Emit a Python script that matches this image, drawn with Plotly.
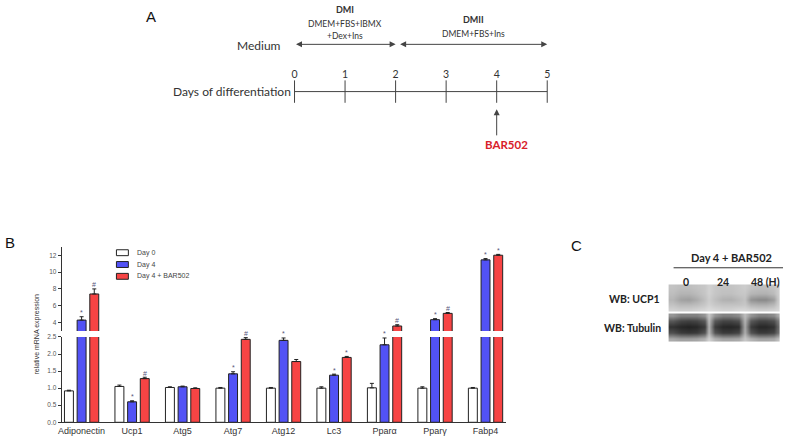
import plotly.graph_objects as go

W, H = 787, 443

# ---------------- data ----------------
genes = ["Adiponectin", "Ucp1", "Atg5", "Atg7", "Atg12", "Lc3", "Pparα", "Pparγ", "Fabp4"]
day0 = [0.92, 1.05, 1.02, 1.00, 1.00, 1.00, 1.01, 1.00, 1.00]
day4 = [4.30, 0.60, 1.04, 1.42, 2.40, 1.38, 2.27, 4.35, 11.45]
day4_bar = [7.40, 1.28, 0.99, 2.43, 1.78, 1.90, 3.60, 5.10, 12.00]
err0 = [0.02, 0.04, 0.02, 0.02, 0.02, 0.04, 0.13, 0.04, 0.02]
err4 = [0.40, 0.03, 0.02, 0.06, 0.07, 0.03, 0.20, 0.12, 0.15]
err4b = [0.60, 0.04, 0.02, 0.05, 0.06, 0.03, 0.15, 0.10, 0.10]
sig4 = ["*", "*", "", "*", "*", "*", "*", "*", "*"]
sig4b = ["#", "#", "", "#", "", "*", "#", "#", "*"]
series_names = ["Day 0", "Day 4", "Day 4 + BAR502"]
lower_ticks = [0.0, 0.5, 1.0, 1.5, 2.0, 2.5]
upper_ticks = [4, 6, 8, 10, 12]

days = [0, 1, 2, 3, 4, 5]
lanes = ["0", "24", "48 (H)"]

# western blot image grey levels
blot_x = [672, 680, 688, 696, 704, 708, 714, 722, 730, 738, 744, 750, 758, 766, 774, 778]
ucp1_y = [288, 294, 300, 305, 310]
ucp1_z = [
    [195, 190, 190, 195, 200, 210, 200, 195, 195, 200, 205, 195, 190, 190, 195, 205],
    [190, 180, 180, 188, 198, 210, 198, 192, 192, 198, 200, 182, 178, 178, 188, 205],
    [182, 162, 158, 172, 192, 205, 192, 178, 176, 186, 195, 148, 138, 138, 158, 200],
    [195, 185, 185, 190, 200, 210, 200, 195, 195, 195, 200, 180, 175, 175, 185, 205],
    [210, 205, 205, 210, 215, 220, 215, 210, 210, 215, 215, 210, 205, 205, 210, 215],
]
tub_y = [317, 322, 328, 334, 340]
tub_z = [
    [150, 130, 130, 130, 150, 200, 150, 130, 130, 140, 190, 150, 130, 130, 140, 170],
    [90, 70, 65, 70, 90, 190, 90, 70, 70, 80, 180, 90, 70, 70, 80, 120],
    [50, 40, 35, 40, 60, 180, 60, 40, 38, 45, 170, 60, 40, 40, 50, 100],
    [80, 60, 55, 60, 85, 185, 85, 60, 60, 70, 175, 85, 60, 60, 70, 110],
    [170, 160, 160, 165, 180, 210, 180, 165, 165, 170, 200, 180, 165, 165, 170, 190],
]

# ---------------- helpers ----------------
def py(p):  # pixel y -> paper
    return 1 - p / H

def px(p):
    return p / W

colors = ["#ffffff", "#5252f5", "#f74444"]
vals = [day0, day4, day4_bar]
errs = [err0, err4, err4b]

fig = go.Figure()

for axis in ["y", "y2"]:
    for i in range(3):
        fig.add_trace(go.Bar(
            x=genes, y=vals[i], name=series_names[i],
            marker=dict(color=colors[i], line=dict(color="#222222", width=1)),
            error_y=dict(type="data", array=errs[i], arrayminus=[0] * len(genes),
                         symmetric=False, color="#222222", thickness=1, width=2),
            xaxis="x", yaxis=axis, showlegend=False,
        ))

ann = []
# significance marks
for sig, v, e, shift in [(sig4, day4, err4, 0), (sig4b, day4_bar, err4b, 12.8)]:
    for j, g in enumerate(genes):
        if not sig[j]:
            continue
        top = v[j] + e[j]
        ann.append(dict(x=g, y=top, xref="x", yref="y2" if top > 3 else "y",
                        text=sig[j], showarrow=False, xshift=shift, yshift=4,
                        font=dict(size=7, color="#555577", family="Liberation Sans")))

# y title
ann.append(dict(x=px(33), y=py(335), xref="paper", yref="paper", text="relative mRNA expression",
                textangle=-90, showarrow=False, xanchor="center", yanchor="middle",
                font=dict(size=7, color="#333", family="Liberation Sans")))

# panel letters
for t, x0, y0 in [("A", 148, 13), ("B", 6, 242), ("C", 575, 245)]:
    ann.append(dict(x=px(x0), y=py(y0), xref="paper", yref="paper", text=t, showarrow=False,
                    xanchor="center", yanchor="middle",
                    font=dict(size=15, color="#111", family="Liberation Sans")))

shapes = []
# manual legend (compact spacing as in the reference)
leg_y = [252.7, 264.7, 276.7]
for i in range(3):
    shapes.append(dict(type="rect", xref="x5", yref="y5", x0=113, x1=125,
                       y0=leg_y[i] - 3, y1=leg_y[i] + 3, fillcolor=colors[i],
                       line=dict(color="#222", width=1)))
    ann.append(dict(x=132, y=leg_y[i], xref="x5", yref="y5", text=series_names[i],
                    showarrow=False, xanchor="left", yanchor="middle",
                    font=dict(size=7, color="#444", family="Liberation Sans")))

# ---------------- panel A (timeline) ----------------
dpx = (546 - 292) / 5.0
x3_range = [(0 - 292) / dpx, (590.25 - 292) / dpx]
fig.add_trace(go.Scatter(x=[days[0], days[-1]], y=[89, 89], mode="lines",
                         line=dict(color="#444", width=1), xaxis="x3", yaxis="y3",
                         showlegend=False, hoverinfo="skip"))
fig.add_trace(go.Scatter(x=days, y=[89] * len(days), mode="markers+text",
                         marker=dict(symbol="line-ns", size=16, line=dict(color="#444", width=1)),
                         text=[str(d) for d in days], textposition="top center",
                         textfont=dict(size=10.5, color="#333", family="Lato"),
                         xaxis="x3", yaxis="y3", showlegend=False, hoverinfo="skip"))

fontA = "Lato"
ann += [
    dict(x=2, y=41, ax=0, ay=41, xref="x3", yref="y3", axref="x3", ayref="y3", text="",
         showarrow=True, arrowside="end+start", arrowhead=2, arrowsize=1.2, arrowwidth=1, arrowcolor="#444"),
    dict(x=5, y=41, ax=2.06, ay=41, xref="x3", yref="y3", axref="x3", ayref="y3", text="",
         showarrow=True, arrowside="end+start", arrowhead=2, arrowsize=1.2, arrowwidth=1, arrowcolor="#444"),
    dict(x=4, y=107, ax=4, ay=135, xref="x3", yref="y3", axref="x3", ayref="y3", text="",
         showarrow=True, arrowhead=2, arrowsize=1.2, arrowwidth=1, arrowcolor="#444"),
    dict(x=4.2, y=143, xref="x3", yref="y3", text="<b>BAR502</b>", showarrow=False,
         font=dict(size=11.5, color="#d8202a", family=fontA)),
    dict(x=1, y=6, xref="x3", yref="y3", text="<b>DMI</b>", showarrow=False,
         font=dict(size=9, color="#333", family=fontA)),
    dict(x=1, y=20, xref="x3", yref="y3", text="DMEM+FBS+IBMX", showarrow=False,
         font=dict(size=8.5, color="#333", family=fontA)),
    dict(x=1, y=33, xref="x3", yref="y3", text="+Dex+Ins", showarrow=False,
         font=dict(size=8.5, color="#333", family=fontA)),
    dict(x=3.55, y=16, xref="x3", yref="y3", text="<b>DMII</b>", showarrow=False,
         font=dict(size=9, color="#333", family=fontA)),
    dict(x=3.55, y=30, xref="x3", yref="y3", text="DMEM+FBS+Ins", showarrow=False,
         font=dict(size=8.5, color="#333", family=fontA)),
    dict(x=-0.22, y=42, xref="x3", yref="y3", text="Medium", showarrow=False, xanchor="right",
         font=dict(size=12, color="#333", family=fontA)),
    dict(x=-0.03, y=89, xref="x3", yref="y3", text="Days of differentiation", showarrow=False,
         xanchor="right", font=dict(size=12, color="#333", family=fontA)),
]

# ---------------- panel C (western blot) ----------------
gray = [[0, "#000000"], [1, "#ffffff"]]
for yy, zz in [(ucp1_y, ucp1_z), (tub_y, tub_z)]:
    fig.add_trace(go.Heatmap(x=blot_x, y=yy, z=zz, colorscale=gray, zmin=0, zmax=255,
                             zsmooth="best", showscale=False, xaxis="x4", yaxis="y4",
                             hoverinfo="skip"))

lane_x = [685, 723, 765]
for lx, lt in zip(lane_x, lanes):
    ann.append(dict(x=lx, y=282, xref="x4", yref="y4", text="<b>%s</b>" % lt, showarrow=False,
                    font=dict(size=10.5, color="#222", family=fontA)))
ann += [
    dict(x=731, y=258, xref="x4", yref="y4", text="<b>Day 4 + BAR502</b>", showarrow=False,
         font=dict(size=11, color="#222", family=fontA)),
    dict(x=661, y=300, xref="x4", yref="y4", text="<b>WB: UCP1</b>", showarrow=False, xanchor="right",
         font=dict(size=10.5, color="#222", family=fontA)),
    dict(x=662, y=329, xref="x4", yref="y4", text="<b>WB: Tubulin</b>", showarrow=False, xanchor="right",
         font=dict(size=10.5, color="#222", family=fontA)),
]

shapes.append(dict(type="line", xref="x4", yref="y4", x0=673, x1=783, y0=268, y1=268,
                   line=dict(color="#333", width=1)))

axis_font = dict(size=6.5, color="#555", family="Liberation Sans")
fig.update_layout(
    width=W, height=H, margin=dict(l=0, r=0, t=0, b=0),
    paper_bgcolor="white", plot_bgcolor="rgba(0,0,0,0)",
    barmode="group", bargap=0.247, bargroupgap=0.295, showlegend=False,
    xaxis=dict(domain=[px(58), px(505)], range=[-0.394, 8.414], showline=True, linecolor="#333",
               linewidth=1, ticks="", showgrid=False, zeroline=False, anchor="y",
               tickfont=dict(size=9, color="#333", family="Liberation Sans")),
    yaxis=dict(domain=[py(425), py(338.3)], range=[0, 2.5], tickvals=lower_ticks,
               ticktext=["%.1f" % t for t in lower_ticks], showline=True, linecolor="#333",
               ticks="outside", ticklen=3, tickcolor="#333", showgrid=False, zeroline=False,
               tickfont=axis_font, anchor="x"),
    yaxis2=dict(domain=[py(332.3), py(246.7)], range=[3, 13], tickvals=upper_ticks,
                showline=True, linecolor="#333", ticks="outside", ticklen=3, tickcolor="#333",
                showgrid=False, zeroline=False, tickfont=axis_font, anchor="x"),
    xaxis3=dict(domain=[0, 0.75], range=x3_range, visible=False, anchor="y3"),
    yaxis3=dict(domain=[py(160), 1], range=[160, 0], visible=False, anchor="x3"),
    xaxis4=dict(domain=[px(560), 1], range=[560, 787], visible=False, anchor="y4"),
    yaxis4=dict(domain=[py(370), py(230)], range=[370, 230], visible=False, anchor="x4"),
    xaxis5=dict(domain=[0, 1], range=[0, W], visible=False, anchor="y5"),
    yaxis5=dict(domain=[0, 1], range=[H, 0], visible=False, anchor="x5"),
    annotations=ann, shapes=shapes,
)

fig.write_html("out.html", config={"displayModeBar": False},
               post_script="document.body.style.margin='0';document.body.style.overflow='hidden';")
